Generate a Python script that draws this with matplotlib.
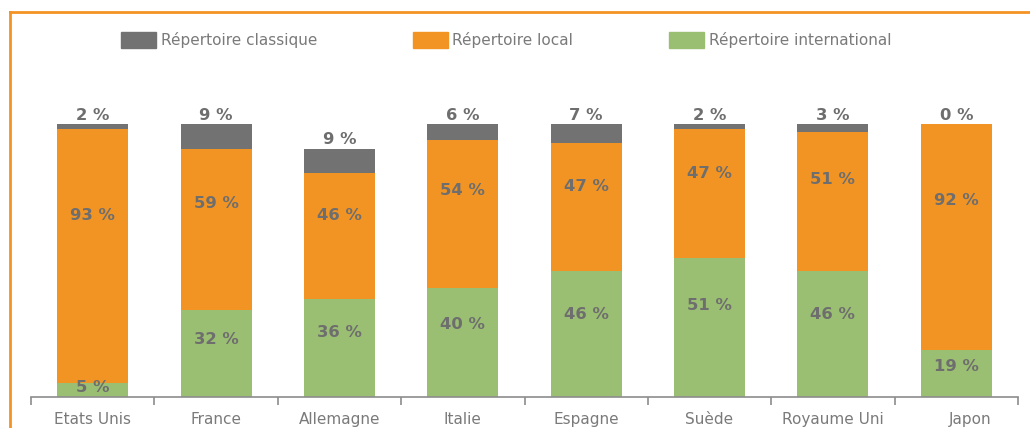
import numpy as np
import matplotlib
matplotlib.use('Agg')
import matplotlib.pyplot as plt
import matplotlib.transforms as mtransforms
from matplotlib.lines import Line2D
from matplotlib.patches import Patch

# ============================================================
# Données (parts de répertoire, en %)
# ============================================================
pays = ['Etats Unis', 'France', 'Allemagne', 'Italie', 'Espagne', 'Suède', 'Royaume Uni', 'Japon']
international = [5, 32, 36, 40, 46, 51, 46, 19]
local = [93, 59, 46, 54, 47, 47, 51, 92]
classique = [2, 9, 9, 6, 7, 2, 3, 0]

c_classique = '#727272'
c_local = '#F29423'
c_inter = '#9BBF72'
c_label = '#6E6E6E'
c_text = '#7A7A7A'
c_orange_cadre = '#F39325'

# quand le total dépasse 100 (Japon), la barre est ramenée à 100
intl = np.array(international, dtype=float)
loc = np.array(local, dtype=float)
cla = np.array(classique, dtype=float)
tot = intl + loc + cla
k = 100.0 / np.maximum(tot, 100.0)
h_intl, h_loc, h_cla = intl * k, loc * k, cla * k

# ============================================================
# Figure
# ============================================================
fig = plt.figure(figsize=(10.30, 4.28), dpi=100, facecolor='white')
ax = fig.add_axes([31 / 1030, 1 - 397 / 428, 987 / 1030, (397 - 124) / 428])

x = np.arange(len(pays))
w = 0.575
ax.bar(x, h_intl, w, color=c_inter, label='Répertoire international')
ax.bar(x, h_loc, w, bottom=h_intl, color=c_local, label='Répertoire local')
ax.bar(x, h_cla, w, bottom=h_intl + h_loc, color=c_classique, label='Répertoire classique')

font_lab = dict(fontsize=11.8, fontweight='bold', color=c_label, ha='center', family='DejaVu Sans')
for i in range(len(pays)):
    ax.text(x[i], h_intl[i] * 0.66, f'{international[i]} %', va='center', **font_lab)
    ax.text(x[i], h_intl[i] + h_loc[i] * 0.66, f'{local[i]} %', va='center', **font_lab)
    ax.annotate(f'{classique[i]} %', (x[i], h_intl[i] + h_loc[i] + h_cla[i]),
                xytext=(0, 3), textcoords='offset points', va='baseline',
                annotation_clip=False, **font_lab)

ax.set_xlim(-0.5, len(pays) - 0.5)
ax.set_ylim(0, 100)
ax.set_yticks([])
for s in ['top', 'right', 'left']:
    ax.spines[s].set_visible(False)
ax.spines['bottom'].set_color('#8C8C8C')
ax.spines['bottom'].set_linewidth(1.2)

ax.set_xticks(x)
ax.set_xticklabels(pays, fontsize=11, color=c_text)
ax.tick_params(axis='x', which='major', length=0, pad=10.5)
ax.set_xticks(np.arange(-0.5, len(pays)), minor=True)
ax.tick_params(axis='x', which='minor', length=6, width=1.2, color='#8C8C8C', direction='out')

# "Japon" est décalé vers la droite dans l'original
lab = ax.get_xticklabels()[-1]
lab.set_transform(lab.get_transform() + mtransforms.ScaledTranslation(14 / 100, 0, fig.dpi_scale_trans))

# légende en haut
handles = [Patch(color=c_classique), Patch(color=c_local), Patch(color=c_inter)]
noms = ['Répertoire classique', 'Répertoire local', 'Répertoire international']
fig.legend(handles, noms, loc='center', bbox_to_anchor=(506 / 1030, 1 - 40 / 428),
           ncol=3, frameon=False, fontsize=11, labelcolor=c_text,
           handlelength=2.3, handleheight=1.25, handletextpad=0.3, columnspacing=6.26)

# cadre orange (haut et gauche)
fig.add_artist(Line2D([10 / 1030, 1.0], [1 - 12 / 428, 1 - 12 / 428],
                      transform=fig.transFigure, color=c_orange_cadre, lw=2))
fig.add_artist(Line2D([10 / 1030, 10 / 1030], [0, 1 - 12 / 428],
                      transform=fig.transFigure, color=c_orange_cadre, lw=2))

fig.savefig('out.png', dpi=100, facecolor='white')
